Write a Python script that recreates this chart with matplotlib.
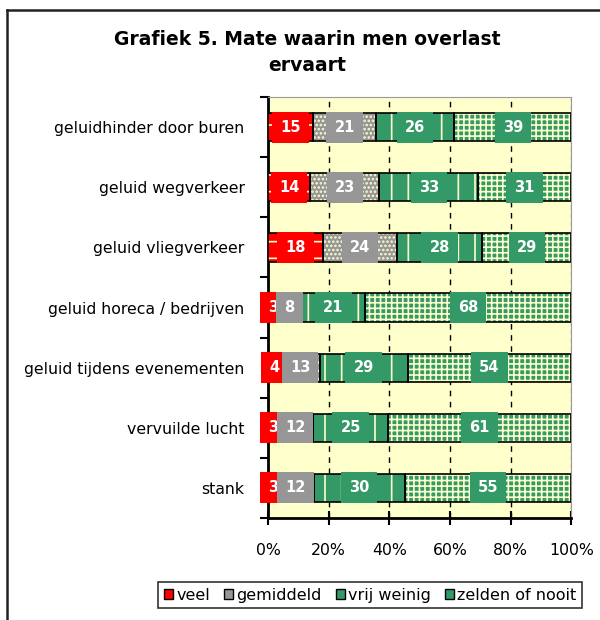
import numpy as np
import matplotlib.pyplot as plt
from matplotlib.patches import Patch
from matplotlib.lines import Line2D

categories = [
    "geluidhinder door buren",
    "geluid wegverkeer",
    "geluid vliegverkeer",
    "geluid horeca / bedrijven",
    "geluid tijdens evenementen",
    "vervuilde lucht",
    "stank",
]
veel = [15, 14, 18, 3, 4, 3, 3]
gemiddeld = [21, 23, 24, 8, 13, 12, 12]
vrij_weinig = [26, 33, 28, 21, 29, 25, 30]
zelden = [39, 31, 29, 68, 54, 61, 55]

series = [
    ("veel", veel, "#FF0000", "-"),
    ("gemiddeld", gemiddeld, "#969696", "...."),
    ("vrij weinig", vrij_weinig, "#339966", "|"),
    ("zelden of nooit", zelden, "#339966", "+++"),
]

plt.rcParams["font.family"] = "DejaVu Sans"
plt.rcParams["hatch.linewidth"] = 1.2

fig = plt.figure(figsize=(6, 6.2), dpi=100)
ax = fig.add_axes([0.447, 0.1645, 0.505, 0.679])
ax.set_facecolor("#FFFFCC")

y = np.arange(len(categories))
totals = np.sum([s[1] for s in series], axis=0)
left = np.zeros(len(categories))
bar_h = 0.47

for name, vals, color, hatch in series:
    pct = np.array(vals) / totals * 100
    ax.barh(y, pct, left=left, height=bar_h, color=color, hatch=hatch,
            edgecolor="#FFFFCC", linewidth=0, zorder=3)
    ax.barh(y, pct, left=left, height=bar_h, fill=False,
            edgecolor="black", linewidth=1.2, zorder=4)
    for yi, l, w, v in zip(y, left, pct, vals):
        ax.text(l + w / 2, yi, str(v), ha="center", va="center",
                color="white", fontsize=10.5, fontweight="bold", zorder=6,
                clip_on=False,
                bbox=dict(boxstyle="square,pad=0.55", fc=color, ec="none"))
    left += pct

for xv in [20, 40, 60, 80]:
    ax.axvline(xv, color="black", linestyle=(0, (4, 4)), linewidth=1, zorder=1)
ax.axvline(100, color="#999999", linestyle=(0, (4, 2)), linewidth=1, zorder=1)

ax.set_xlim(0, 100)
ax.set_ylim(len(categories) - 0.5, -0.5)
ax.set_xticks([0, 20, 40, 60, 80, 100])
ax.set_xticklabels(["0%", "20%", "40%", "60%", "80%", "100%"], fontsize=11.3)
ax.tick_params(axis="x", direction="inout", length=10, width=1.5, pad=13)

ax.set_yticks(y)
ax.set_yticklabels(categories, fontsize=11.3)
ax.set_yticks(np.arange(-0.5, len(categories)), minor=True)
ax.tick_params(axis="y", which="major", length=0, pad=17)
ax.tick_params(axis="y", which="minor", direction="out", length=6, width=1.5)

ax.spines["left"].set_linewidth(2)
ax.spines["bottom"].set_linewidth(2)
ax.spines["top"].set_color("#999999")
ax.spines["right"].set_color("#999999")

fig.text(0.512, 0.915, "Grafiek 5. Mate waarin men overlast\nervaart",
         ha="center", va="center", fontsize=13.5, fontweight="bold",
         linespacing=1.45)

handles = [Patch(facecolor=c, edgecolor="black", linewidth=1)
           for _, _, c, _ in series]
labels = [s[0] for s in series]
leg = fig.legend(handles, labels, loc="center", bbox_to_anchor=(0.617, 0.04),
                 ncol=4, fontsize=11.5, frameon=True, fancybox=False,
                 handlelength=0.55, handleheight=0.6, handletextpad=0.2,
                 columnspacing=0.9, borderpad=0.35, borderaxespad=0)
leg.get_frame().set_edgecolor("black")
leg.get_frame().set_linewidth(1.2)

# outer frame (partially cut off, as in the source)
fig.add_artist(Line2D([7 / 600, 7 / 600], [0, 1 - 10 / 620], color="#222222",
                      linewidth=1.8, transform=fig.transFigure))
fig.add_artist(Line2D([7 / 600, 1], [1 - 10 / 620, 1 - 10 / 620],
                      color="#222222", linewidth=1.8,
                      transform=fig.transFigure))

fig.savefig("out.png", dpi=100)
